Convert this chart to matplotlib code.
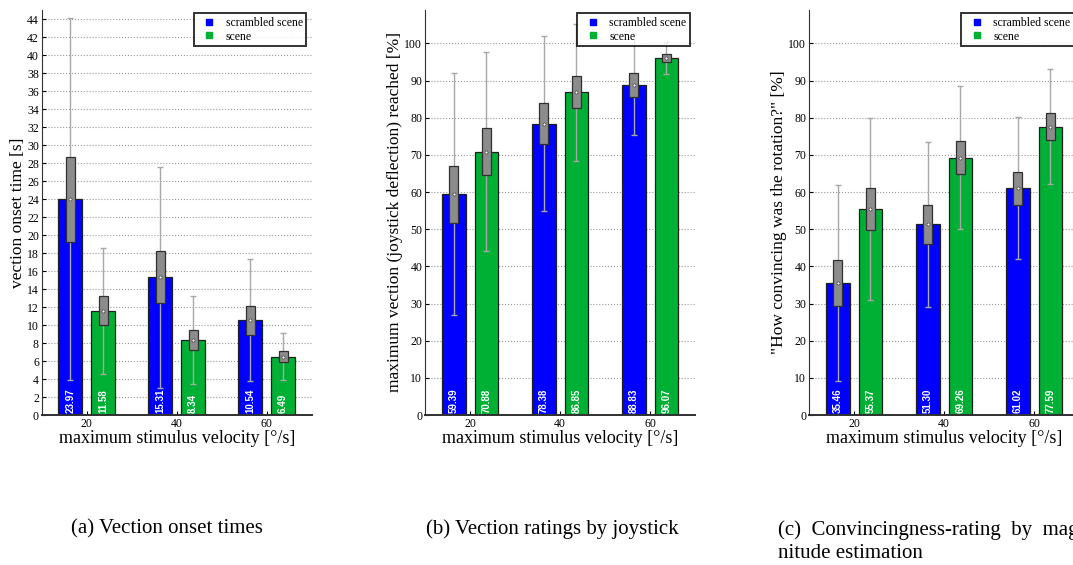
import matplotlib
matplotlib.use("Agg")
import matplotlib.pyplot as plt
from matplotlib.lines import Line2D
import numpy as np

plt.rcParams['font.family'] = ['Liberation Serif', 'DejaVu Serif']

velocities = [20, 40, 60]
series_names = ["scrambled scene", "scene"]

# (a) vection onset time [s]
onset_mean = [[23.97, 15.31, 10.54], [11.58, 8.34, 6.49]]
onset_se = [[4.73, 2.89, 1.60], [1.63, 1.15, 0.65]]
onset_sd = [[20.1, 12.3, 6.8], [7.0, 4.9, 2.63]]

# (b) maximum joystick deflection [%]
joy_mean = [[59.39, 78.38, 88.83], [70.88, 86.85, 96.07]]
joy_se = [[7.65, 5.55, 3.25], [6.35, 4.35, 1.0]]
joy_sd = [[32.6, 23.5, 13.6], [26.8, 18.4, 4.3]]

# (c) convincingness rating [%]
conv_mean = [[35.46, 51.30, 61.02], [55.37, 69.26, 77.59]]
conv_se = [[6.2, 5.2, 4.4], [5.7, 4.5, 3.65]]
conv_sd = [[26.4, 22.2, 19.1], [24.5, 19.25, 15.5]]

colors = ['#0000ff', '#00b035']


def draw_panel(ax, means, ses, sds, ylim, yticks, ylabel):
    x = np.array(velocities, dtype=float)
    offsets = [-3.65, 3.65]
    for k in range(2):
        xs = x + offsets[k]
        m = np.array(means[k])
        se = np.array(ses[k])
        sd = np.array(sds[k])
        ax.bar(xs, m, width=5.3, color=colors[k], edgecolor='#202020',
               linewidth=0.9, zorder=2)
        ax.errorbar(xs, m, yerr=sd, fmt='none', ecolor='#a8a8a8',
                    elinewidth=1.0, capsize=2.5, capthick=1.0, zorder=3)
        ax.bar(xs, 2 * se, bottom=m - se, width=2.0, color='#8c8c8c',
               edgecolor='#303030', linewidth=0.9, zorder=4)
        ax.plot(xs, m, 'o', ms=2.2, mfc='white', mec='#404040', mew=0.5,
                zorder=5)
        for xi, mi in zip(xs, m):
            ax.text(xi, ylim[1] * 0.004, "%.2f" % mi, rotation=90,
                    ha='center', va='bottom', color='white', fontsize=7,
                    fontweight='bold', family='Liberation Sans', zorder=6)
    ax.set_xlim(10, 70)
    ax.set_ylim(*ylim)
    ax.set_xticks(velocities)
    ax.set_yticks(yticks)
    ax.tick_params(direction='in', length=3, labelsize=8.5, pad=2)
    ax.yaxis.grid(True, linestyle=':', color='#999999', linewidth=0.8)
    ax.set_axisbelow(True)
    for s in ['top', 'right']:
        ax.spines[s].set_visible(False)
    ax.spines['bottom'].set_linewidth(1.4)
    ax.spines['bottom'].set_color('#303030')
    ax.spines['left'].set_color('#303030')
    ax.set_xlabel("maximum stimulus velocity [°/s]", fontsize=13, labelpad=0)
    ax.set_ylabel(ylabel, fontsize=12.5, labelpad=1)
    handles = [Line2D([], [], marker='s', ls='none', color=c, ms=4)
               for c in colors]
    leg = ax.legend(handles, series_names, loc='upper right',
                    bbox_to_anchor=(0.985, 0.995),
                    fontsize=8.5, frameon=True, fancybox=False,
                    handlelength=2.0, handletextpad=0.4, numpoints=1,
                    borderpad=0.3, labelspacing=0.15, borderaxespad=0.1)
    leg.get_frame().set_edgecolor('black')
    leg.get_frame().set_linewidth(1.4)
    leg.set_zorder(10)


fig = plt.figure(figsize=(10.73, 5.65), dpi=100)
w = 270 / 1073
b = 1 - 415 / 565
h = (415 - 10) / 565
ax1 = fig.add_axes([41.7 / 1073, b, w, h])
ax2 = fig.add_axes([425 / 1073, b, w, h])
ax3 = fig.add_axes([809 / 1073, b, w, h])

draw_panel(ax1, onset_mean, onset_se, onset_sd, (0, 45), range(0, 45, 2),
           "vection onset time [s]")
draw_panel(ax2, joy_mean, joy_se, joy_sd, (0, 109), range(0, 101, 10),
           "maximum vection (joystick deflection) reached [%]")
draw_panel(ax3, conv_mean, conv_se, conv_sd, (0, 109), range(0, 101, 10),
           "\"How convincing was the rotation?\" [%]")

fig.text(167 / 1073, 1 - 529 / 565, "(a) Vection onset times", fontsize=15,
         ha='center', va='center')
fig.text(552 / 1073, 1 - 529 / 565, "(b) Vection ratings by joystick",
         fontsize=15, ha='center', va='center')
fig.text(778 / 1073, 1 - 530 / 565, "(c)  Convincingness-rating  by  mag-",
         fontsize=15, ha='left', va='center')
fig.text(778 / 1073, 1 - 553 / 565, "nitude estimation", fontsize=15,
         ha='left', va='center')

fig.savefig("out.png", dpi=100)
